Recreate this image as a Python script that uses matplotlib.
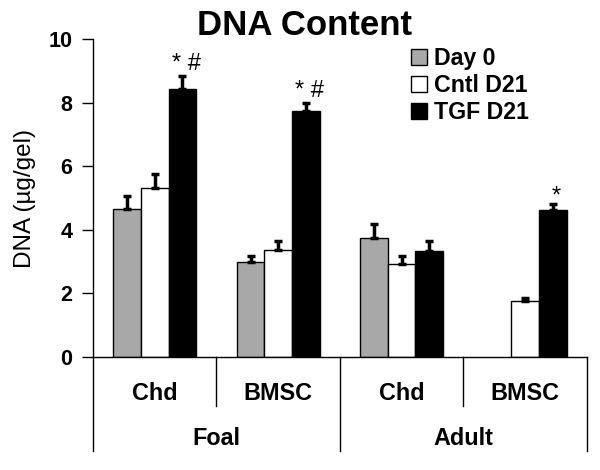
import numpy as np
import matplotlib
matplotlib.use("Agg")
import matplotlib.pyplot as plt
from matplotlib.patches import Patch
import matplotlib.transforms as mtransforms

plt.rcParams['font.family'] = ['Liberation Sans', 'DejaVu Sans']

groups = ["Chd", "BMSC", "Chd", "BMSC"]
supergroups = ["Foal", "Adult"]
series = ["Day 0", "Cntl D21", "TGF D21"]
day0 = [4.67, 2.99, 3.74, np.nan]
day0_err = [0.38, 0.20, 0.44, np.nan]
cntl = [5.30, 3.38, 2.93, 1.77]
cntl_err = [0.47, 0.26, 0.25, 0.09]
tgf = [8.42, 7.73, 3.34, 4.63]
tgf_err = [0.41, 0.25, 0.30, 0.19]
annotations = {0: "* #", 1: "* #", 3: "*"}
colors = ["#a8a8a8", "#ffffff", "#000000"]

fig = plt.figure(figsize=(6, 4.7), dpi=100)
ax = fig.add_axes([0.155, 0.2404, 0.823, 0.6766])

x = np.arange(len(groups))
w = 0.224
vals = [day0, cntl, tgf]
errs = [day0_err, cntl_err, tgf_err]
for i, (v, e) in enumerate(zip(vals, errs)):
    xs = x + (i - 1) * w
    ax.bar(xs, v, width=w, color=colors[i], edgecolor="black", linewidth=1.0,
           label=series[i], zorder=2)
    e = np.array(e, dtype=float)
    ax.errorbar(xs, v, yerr=[np.zeros_like(e), e], fmt="none", ecolor="black",
                elinewidth=2.5, capsize=2.6, capthick=2.5, zorder=3)

for gi, txt in annotations.items():
    top = tgf[gi] + tgf_err[gi]
    off = 0.2 if txt != "*" else 0.05
    ax.text(x[gi] + w + 0.03, top + off, txt, ha="center", va="baseline",
            fontsize=17, color="black")

ax.set_xlim(-0.5, len(groups) - 0.5)
ax.set_ylim(0, 10)
ax.set_yticks([0, 2, 4, 6, 8, 10])
ax.set_xticks([])
for s in ["top", "right"]:
    ax.spines[s].set_visible(False)
ax.spines["left"].set_linewidth(1.0)
ax.spines["bottom"].set_linewidth(1.0)
ax.tick_params(axis="y", length=8, width=1.0, pad=7, labelsize=15.5)
for lab in ax.get_yticklabels():
    lab.set_fontweight("bold")
ax.set_ylabel("DNA (\u00b5g/gel)", fontsize=17.5, labelpad=9)

# category table below the axis
trans = mtransforms.blended_transform_factory(ax.transData, ax.transAxes)
sub_bottom = -0.154
main_bottom = -0.296
for b in [-0.5, 1.5, 3.5]:
    ax.plot([b, b], [0, main_bottom], color="black", lw=1.0, transform=trans, clip_on=False)
for b in [0.5, 2.5]:
    ax.plot([b, b], [0, sub_bottom], color="black", lw=1.0, transform=trans, clip_on=False)
for gi, g in enumerate(groups):
    ax.text(x[gi], -0.135, g, ha="center", va="baseline", fontsize=16.8,
            fontweight="bold", transform=trans)
for si, sg in enumerate(supergroups):
    ax.text(0.5 + 2 * si, -0.277, sg, ha="center", va="baseline", fontsize=16.8,
            fontweight="bold", transform=trans)

fig.text(0.508, 1 - 35 / 470, "DNA Content", ha="center", va="baseline",
         fontsize=25, fontweight="bold")

handles = [Patch(facecolor=c, edgecolor="black", linewidth=1.0) for c in colors]
leg = fig.legend(handles, series, loc="upper left", bbox_to_anchor=(0.685, 0.90),
                 frameon=False, fontsize=16.7, handlelength=0.7, handleheight=0.7,
                 handletextpad=0.3, labelspacing=0.18, borderpad=0, borderaxespad=0)
for t in leg.get_texts():
    t.set_fontweight("bold")

fig.savefig("out.png", dpi=100)
